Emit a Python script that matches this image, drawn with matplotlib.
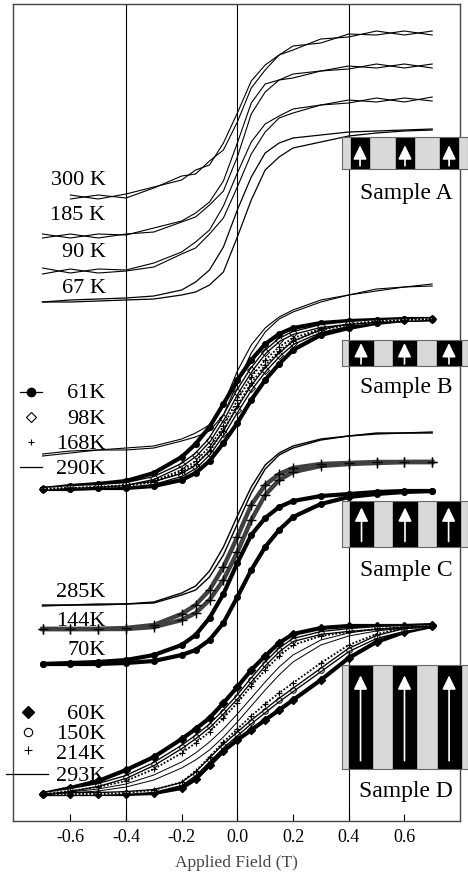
import numpy as np
import matplotlib
matplotlib.use('Agg')
import matplotlib.pyplot as plt

plt.rcParams['font.family'] = ['Liberation Serif', 'DejaVu Serif']
plt.rcParams['axes.unicode_minus'] = False

nan = np.nan

# applied field (T), shared by every branch
field = [-0.7, -0.6, -0.5, -0.4, -0.3, -0.2, -0.15, -0.1, -0.05, 0.0,
         0.05, 0.1, 0.15, 0.2, 0.3, 0.4, 0.5, 0.6, 0.7]

# magnetisation, arbitrary units, each sample stacked with its own offset
# Sample A
a300_up = [nan, 622, 626, 623, 633, 645, 647, 660, 671, 699, 733, 751, 766, 775, 778, 787, 786, 790, 786]
a300_dn = [nan, 626, 622, 627, 634, 641, 651, 656, 678, 708, 740, 756, 766, 771, 782, 784, 790, 786, 790]
a185_up = [583, 587, 583, 587, 589, 599, 604, 616, 630, 664, 707, 729, 741, 743, 750, 755, 753, 757, 753]
a185_dn = [587, 583, 587, 586, 593, 600, 608, 619, 640, 678, 718, 737, 741, 747, 750, 752, 757, 753, 757]
a90_up = [547, 552, 548, 550, 554, 567, 573, 587, 603, 634, 667, 689, 703, 708, 716, 721, 719, 723, 720]
a90_dn = [553, 548, 552, 551, 558, 569, 579, 591, 615, 648, 679, 697, 705, 712, 716, 718, 723, 719, 724]
a67_up = [519, 519, 520, 521, 522, 526, 529, 536, 549, 584, 621, 651, 664, 673, 679, 685, 688, 690, 691]
a67_dn = [519, 521, 522, 523, 525, 531, 539, 551, 574, 611, 644, 668, 678, 683, 686, 689, 690, 691, 692]

# Sample B
b290_up = [365, 368, 371, 371, 373, 380, 384, 390, 406, 438, 468, 489, 502, 509, 519, 526, 530, 534, 535]
b290_dn = [367, 370, 371, 373, 375, 382, 388, 396, 416, 450, 476, 493, 504, 511, 521, 526, 532, 534, 537]
b61_up = [332, 332, 333, 333, 335, 341, 348, 360, 378, 398, 421, 441, 457, 471, 486, 493, 498, 501, 502]
b61_dn = [332, 335, 337, 340, 348, 364, 377, 394, 417, 441, 461, 477, 487, 493, 498, 500, 501, 502, 502]
b98_up = [332, 333, 334, 335, 338, 346, 354, 368, 388, 411, 433, 451, 466, 478, 490, 496, 499, 501, 502]
b98_dn = [332, 334, 335, 337, 343, 356, 366, 381, 403, 429, 451, 469, 481, 488, 495, 498, 500, 501, 502]
b168_up = [332, 333, 334, 335, 339, 349, 357, 370, 390, 415, 438, 456, 470, 480, 491, 496, 499, 501, 502]
b168_dn = [332, 333, 334, 336, 340, 351, 360, 374, 395, 421, 444, 461, 474, 483, 492, 497, 500, 501, 502]

# Sample C
c285_up = [215, 216, 216, 217, 218, 226, 231, 244, 266, 297, 328, 352, 366, 373, 381, 385, 387, 388, 388]
c285_dn = [216, 216, 217, 217, 219, 228, 235, 250, 274, 305, 334, 356, 368, 375, 382, 385, 388, 388, 389]
c144_up = [192, 192, 192, 192, 194, 201, 208, 221, 241, 269, 301, 326, 341, 349, 355, 357, 358, 359, 359]
c144_dn = [192, 192, 192, 193, 196, 207, 216, 231, 254, 284, 316, 336, 347, 353, 357, 358, 359, 359, 359]
c70_up = [157, 157, 157, 158, 160, 166, 171, 181, 198, 224, 251, 274, 291, 304, 317, 324, 327, 329, 330]
c70_dn = [157, 158, 159, 161, 166, 176, 186, 203, 227, 258, 286, 303, 314, 320, 325, 327, 329, 330, 330]

# Sample D
d60_up = [27, 27, 27, 27, 28, 33, 42, 56, 70, 81, 91, 101, 111, 121, 141, 163, 179, 189, 195]
d60_dn = [27, 33, 40, 51, 64, 82, 92, 103, 118, 134, 151, 165, 178, 187, 193, 195, 195, 195, 196]
d150_up = [27, 27, 27, 28, 30, 37, 47, 61, 75, 87, 99, 110, 121, 131, 151, 171, 184, 191, 195]
d150_dn = [27, 31, 36, 44, 57, 74, 84, 95, 109, 124, 141, 157, 171, 181, 188, 191, 193, 194, 195]
d214_up = [27, 27, 27, 28, 31, 39, 50, 64, 79, 92, 105, 117, 128, 138, 158, 176, 187, 193, 195]
d214_dn = [27, 30, 34, 40, 52, 68, 78, 89, 103, 118, 135, 151, 165, 176, 185, 189, 192, 194, 195]
d293_up = [27, 28, 30, 34, 41, 53, 61, 71, 84, 99, 115, 131, 146, 159, 176, 185, 190, 193, 195]
d293_dn = [27, 29, 32, 37, 46, 59, 68, 79, 92, 107, 123, 139, 154, 166, 181, 188, 192, 194, 195]

ticks = [-0.6, -0.4, -0.2, 0.0, 0.2, 0.4, 0.6]
guides = [-0.4, 0.0, 0.4]


def thin_loop(ax, up, dn, lw=0.8):
    for br in (up, dn):
        ax.plot(field, br, color='black', lw=lw)


def filled_loop(ax, up, dn, marker, ms):
    for br in (up, dn):
        ax.plot(field, br, color='black', lw=3.0, marker=marker, ms=ms,
                solid_capstyle='round')


def hollow_loop(ax, up, dn, marker):
    for br in (up, dn):
        ax.plot(field, br, color='black', lw=3.0)
        ax.plot(field, br, color='white', lw=1.1)
        ax.plot(field, br, ls='none', marker=marker, ms=4, mfc='none',
                mec='black', mew=0.7)


def cross_loop(ax, up, dn, lw=1.3, color='black', ms=4):
    for br in (up, dn):
        ax.plot(field, br, color=color, lw=lw, ls=(0, (1, 1)), marker='+',
                ms=ms, mew=0.8, mec='black')


def sample_box(fig, rect, stripes, stripe_w, tip, base):
    # inset showing the stripe domains with their magnetisation arrows
    bx = fig.add_axes(rect)
    bx.set_xlim(0, 1)
    bx.set_ylim(0, 1)
    bx.set_facecolor('#d9d9d9')
    for s in bx.spines.values():
        s.set_color('#666666')
        s.set_linewidth(0.8)
    bx.set_xticks([])
    bx.set_yticks([])
    for c in stripes:
        bx.axvspan(c - stripe_w / 2, c + stripe_w / 2, color='black')
        bx.annotate('', xy=(c, tip), xytext=(c, base),
                    arrowprops=dict(arrowstyle='-|>,head_length=0.7,head_width=0.34',
                                    color='white', lw=1.2, mutation_scale=12,
                                    shrinkA=0, shrinkB=0))
    return bx


fig = plt.figure(figsize=(4.68, 8.77), dpi=100)
ax = fig.add_axes([13 / 468, 56 / 877, 447 / 468, 817 / 877])
ax.set_xlim(-0.806, 0.80)
ax.set_ylim(0, 817)

for g in guides:
    ax.axvline(g, color='black', lw=0.8, zorder=1)

# Sample A
thin_loop(ax, a300_up, a300_dn)
thin_loop(ax, a185_up, a185_dn)
thin_loop(ax, a90_up, a90_dn)
thin_loop(ax, a67_up, a67_dn, lw=0.9)

# Sample B
thin_loop(ax, b290_up, b290_dn)
filled_loop(ax, b61_up, b61_dn, 'o', 4)
hollow_loop(ax, b98_up, b98_dn, 'D')
cross_loop(ax, b168_up, b168_dn)

# Sample C
thin_loop(ax, c285_up, c285_dn, lw=1.0)
for br in (c144_up, c144_dn):
    ax.plot(field, br, color='#404040', lw=3.2, marker='+', ms=7, mew=1.0,
            mec='black')
filled_loop(ax, c70_up, c70_dn, 'o', 4)

# Sample D
filled_loop(ax, d60_up, d60_dn, 'D', 4)
hollow_loop(ax, d150_up, d150_dn, 'o')
cross_loop(ax, d214_up, d214_dn)
thin_loop(ax, d293_up, d293_dn, lw=0.7)

# axis styling
for s in ax.spines.values():
    s.set_color('#444444')
    s.set_linewidth(1.0)
ax.set_yticks([])
ax.set_xticks(ticks)
ax.set_xticklabels(['%.1f' % t for t in ticks])
ax.tick_params(axis='x', direction='in', length=5, width=0.8, pad=6,
               labelsize=13, colors='black')
ax.set_xlabel('Applied Field (T)', fontsize=12.5, color='#444444', labelpad=6)

# temperature labels
lab = dict(transform=ax.transAxes, ha='right', va='baseline', fontsize=16)
for text, yb in [('300 K', 0.7785), ('185 K', 0.7356), ('90 K', 0.6903), ('67 K', 0.6463),
                 ('61K', 0.5177), ('98K', 0.4859), ('168K', 0.4553), ('290K', 0.4247),
                 ('285K', 0.2742), ('144K', 0.2387), ('70K', 0.2032),
                 ('60K', 0.1248), ('150K', 0.1004), ('214K', 0.0759), ('293K', 0.0490)]:
    ax.text(0.207, yb, text, **lab)

# legend keys
key = dict(transform=ax.transAxes, clip_on=False, color='black')
ax.plot([0.0157, 0.0649], [0.5251, 0.5251], lw=0.9, **key)
ax.plot([0.0403], [0.5251], marker='o', ms=6, **key)
ax.plot([0.0403], [0.4945], marker='D', ms=5, mfc='white', mew=0.8, **key)
ax.plot([0.0403], [0.4639], marker='+', ms=5, mew=0.8, **key)
ax.plot([0.0157, 0.0649], [0.4333, 0.4333], lw=0.9, **key)
ax.plot([0.0336], [0.1334], marker='D', ms=6, **key)
ax.plot([0.0336], [0.1089], marker='o', ms=6, mfc='white', mew=0.8, **key)
ax.plot([0.0336], [0.0869], marker='+', ms=6, mew=0.8, **key)
ax.plot([-0.0157, 0.0783], [0.0575, 0.0575], lw=0.9, **key)

# sample names
for text, yb in [('Sample A', 0.7613), ('Sample B', 0.5239),
                 ('Sample C', 0.2999), ('Sample D', 0.0294)]:
    ax.text(0.879, yb, text, transform=ax.transAxes, ha='center',
            va='baseline', fontsize=17)

# domain sketches
sample_box(fig, [342 / 468, 708 / 877, 126 / 468, 32 / 877],
           [0.143, 0.5, 0.85], 0.143, 0.74, 0.1)
sample_box(fig, [342 / 468, 511 / 877, 126 / 468, 26 / 877],
           [0.151, 0.496, 0.849], 0.19, 0.88, 0.08)
sample_box(fig, [342 / 468, 330 / 877, 126 / 468, 46 / 877],
           [0.155, 0.5, 0.846], 0.185, 0.86, 0.12)
sample_box(fig, [342 / 468, 108 / 877, 126 / 468, 104 / 877],
           [0.147, 0.496, 0.85], 0.182, 0.9, 0.08)

fig.savefig('out.png', dpi=100, facecolor='white')
plt.close(fig)
